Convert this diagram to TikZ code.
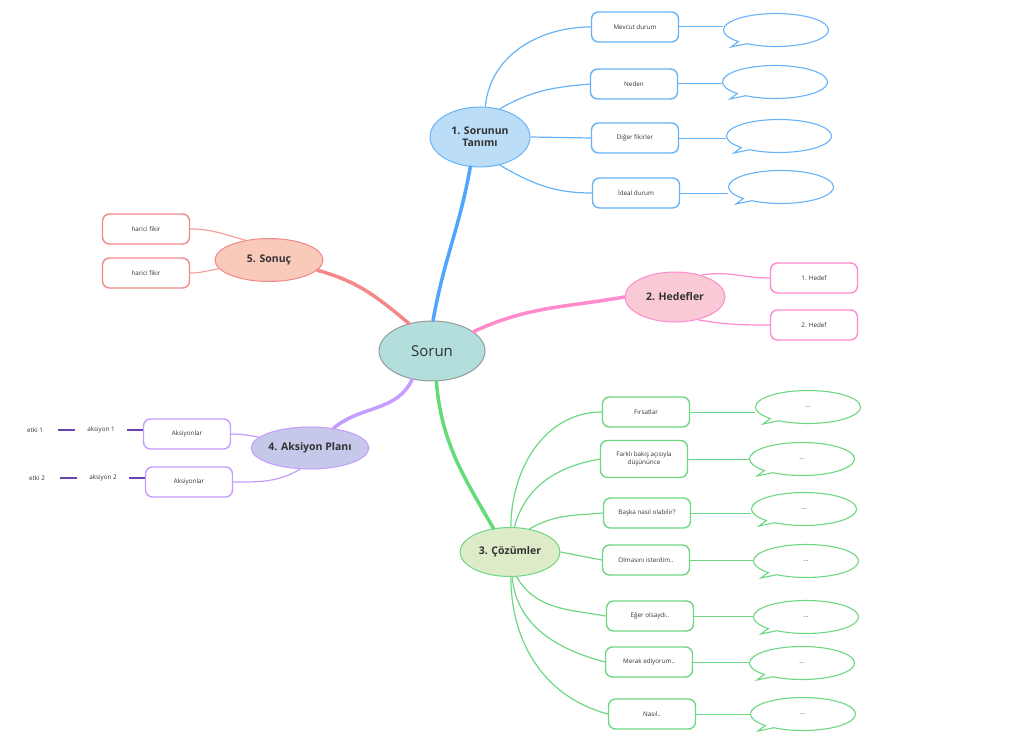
\documentclass[tikz,border=0pt]{standalone}
\usepackage{fontspec}
\setmainfont{Open Sans}
\usepackage{tikz}
\usetikzlibrary{shapes.geometric, shapes.callouts}

\definecolor{bluel}{HTML}{66B3F7}
\definecolor{blueb}{HTML}{4FA6FF}
\definecolor{bluef}{HTML}{BCDDF7}
\definecolor{pinkl}{HTML}{FF8ACC}
\definecolor{pinkf}{HTML}{F9CAD6}
\definecolor{greenl}{HTML}{6ED783}
\definecolor{greenf}{HTML}{DDEBC9}
\definecolor{purpl}{HTML}{C59CFF}
\definecolor{purpf}{HTML}{C6C8E9}
\definecolor{salml}{HTML}{F28888}
\definecolor{salmf}{HTML}{F9C9BA}
\definecolor{rootf}{HTML}{B2DFDB}
\definecolor{darkpurp}{HTML}{6A42B2}
\definecolor{txt}{HTML}{333333}

\tikzset{
  topic/.style={ellipse, draw, line width=1pt, text=txt, font=\fontsize{10.5}{12}\selectfont\bfseries, align=center, inner sep=0pt},
  item/.style={rectangle, rounded corners=7pt, draw, fill=white, line width=1.4pt, minimum width=87pt, minimum height=30pt, text=txt, font=\fontsize{6.3}{8}\selectfont, align=center},
  bubble/.style={ellipse callout, draw, fill=white, line width=1.1pt, minimum width=105pt, minimum height=33pt, callout pointer arc=12, text=txt, font=\fontsize{6.3}{8}\selectfont},
  branch/.style={line width=3.5pt, line cap=round},
  twig/.style={line width=1.2pt}
}

\begin{document}
\begin{tikzpicture}[x=1pt, y=1pt]
\useasboundingbox (0,0) rectangle (1024,-749);

% draw root
\node (sorun) [ellipse, draw=gray!80, line width=1pt, fill=rootf, minimum width=106pt, minimum height=60pt, text=txt, font=\fontsize{15}{18}\selectfont] at (432,-351) {Sorun};

% draw main topics
\node (tanim) [topic, draw=bluel, fill=bluef, minimum width=100pt, minimum height=60pt] at (480,-137) {1. Sorunun\\Tanımı};
\node (hedef) [topic, draw=pinkl, fill=pinkf, minimum width=100pt, minimum height=50pt] at (675,-297) {2. Hedefler};
\node (coz) [topic, draw=greenl, fill=greenf, minimum width=100pt, minimum height=49pt] at (510,-552) {3. Çözümler};
\node (aksiyon) [topic, draw=purpl, fill=purpf, minimum width=107pt, minimum height=42pt] at (310,-448) {4. Aksiyon Planı};
\node (sonuc) [topic, draw=salml, fill=salmf, minimum width=108pt, minimum height=43pt] at (269,-260) {5. Sonuç};

% draw branches
\draw[branch, blueb] (sorun.88) to[out=80, in=-100] (tanim.-108);
\draw[branch, pinkl] (sorun.25) to[out=25, in=190] (hedef.west);
\draw[branch, greenl!90!green] (sorun.-82) to[out=-85, in=120] (coz.125);
\draw[branch, purpl] (sorun.-125) to[out=-115, in=40] (aksiyon.40);
\draw[branch, salml] (sorun.130) to[out=140, in=-15] (sonuc.-12);

% sorunun tanimi
\foreach \i/\bx/\by/\cx/\cy/\t in {1/635/27/776/30/Mevcut durum, 2/634/84/775/82/Neden, 3/635/138/779/136/Diğer fikirler, 4/636/193/781/187/İdeal durum}{
  \node (b\i) [item, draw=bluel] at (\bx,-\by) {\t};
  \node (bb\i) [bubble, draw=bluel, callout absolute pointer={(\cx-45,-\cy-17)}] at (\cx,-\cy) {};
  \draw[bluel, line width=1pt] (b\i.east) -- (b\i.east -| bb\i.west);
}
\draw[twig, bluel] (tanim.80) to[out=85, in=180] (b1.west);
\draw[twig, bluel] (tanim.55) to[out=30, in=185] (b2.west);
\draw[twig, bluel] (tanim.east) -- (b3.west);
\draw[twig, bluel] (tanim.-55) to[out=-30, in=180] (b4.west);

% hedefler
\node (h1) [item, draw=pinkl] at (814,-278) {1. Hedef};
\node (h2) [item, draw=pinkl] at (814,-325) {2. Hedef};
\draw[twig, pinkl] (hedef.40) to[out=10, in=180] (h1.west);
\draw[twig, pinkl] (hedef.-45) to[out=-10, in=180] (h2.west);

% cozumler
\foreach \i/\bx/\by/\h/\cx/\cy/\t in {1/646/412/30/808/407/Fırsatlar, 2/644/459/37/802/459/{Farklı bakış açısıyla\\düşününce}, 3/647/513/30/804/509/Başka nasıl olabilir?, 4/646/560/30/806/561/Olmasını isterdim.., 5/650/616/30/806/617/Eğer olsaydı.., 6/649/662/30/802/663/Merak ediyorum.., 7/652/714/30/803/714/Nasıl..}{
  \node (g\i) [item, draw=greenl, minimum height=\h pt] at (\bx,-\by) {\t};
  \node (gg\i) [bubble, draw=greenl, callout absolute pointer={(\cx-45,-\cy-17)}] at (\cx,-\cy) {...};
  \draw[greenl, line width=1pt] (g\i.east) -- (g\i.east -| gg\i.west);
}
\draw[twig, greenl] (coz.88) to[out=90, in=180] (g1.west);
\draw[twig, greenl] (coz.80) to[out=75, in=190] (g2.west);
\draw[twig, greenl] (coz.50) to[out=30, in=185] (g3.west);
\draw[twig, greenl] (coz.east) -- (g4.west);
\draw[twig, greenl] (coz.-75) to[out=-60, in=170] (g5.west);
\draw[twig, greenl] (coz.-85) to[out=-85, in=165] (g6.west);
\draw[twig, greenl] (coz.-88) to[out=-90, in=165] (g7.west);

% aksiyon plani
\foreach \i/\bx/\by in {1/187/434, 2/189/482}{
  \node (a\i) [item, draw=purpl] at (\bx,-\by) {Aksiyonlar};
  \node (ak\i) [text=txt, font=\fontsize{6.3}{8}\selectfont] at (\bx-86,-\by+4) {aksiyon \i};
  \node (et\i) [text=txt, font=\fontsize{6.3}{8}\selectfont] at (\bx-152,-\by+4) {etki \i};
  \draw[darkpurp, line width=1.4pt, shorten <=12pt, shorten >=9pt] (et\i.east) -- (ak\i.west);
  \draw[darkpurp, line width=1.4pt, shorten <=9pt] (ak\i.east) -- (a\i.west |- ak\i.east);
}
\draw[twig, purpl] (a1.east) to[out=0, in=170] (aksiyon.168);
\draw[twig, purpl] (a2.east) to[out=0, in=-150] (aksiyon.-115);

% sonuc
\node (s1) [item, draw=salml] at (146,-229) {harici fikir};
\node (s2) [item, draw=salml] at (146,-273) {harici fikir};
\draw[twig, salml!80] (s1.east) to[out=0, in=165] (sonuc.140);
\draw[twig, salml!80] (s2.east) to[out=0, in=188] (sonuc.190);

\end{tikzpicture}
\end{document}
